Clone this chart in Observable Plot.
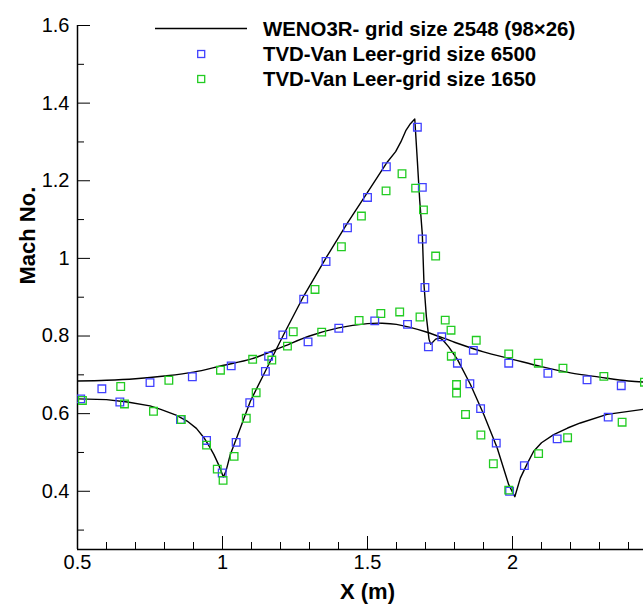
<!DOCTYPE html>
<html><head><meta charset="utf-8">
<script src="https://cdn.jsdelivr.net/npm/d3@7"></script>
<script src="https://cdn.jsdelivr.net/npm/@observablehq/plot@0.6"></script>
<style>
html,body{margin:0;padding:0;background:#fff;overflow:hidden;}
#wrap{position:relative;width:643px;height:605px;overflow:hidden;font-family:Arial,"Liberation Sans",sans-serif;}
#legend{position:absolute;left:0;top:0;}
</style></head><body><div id="wrap"></div>
<script>
// WENO3R - grid size 2548 (smooth curve)
const wenoUpper = [[0.5,0.684],[0.6,0.686],[0.7,0.690],[0.8,0.697],[0.9,0.707],[1.0,0.724],[1.1,0.741],[1.2,0.770],[1.3,0.800],[1.4,0.821],[1.5,0.832],[1.55,0.833],[1.6,0.830],[1.7,0.811],[1.8,0.784],[1.9,0.759],[2.0,0.740],[2.1,0.721],[2.2,0.705],[2.3,0.694],[2.4,0.684],[2.5,0.680]];
// WENO3R - grid size 2548 (curve with shock)
const wenoLower = [[0.5,0.638],[0.6,0.636],[0.672,0.630],[0.75,0.620],[0.787,0.611],[0.84,0.596],[0.878,0.581],[0.91,0.562],[0.936,0.538],[0.955,0.515],[0.970,0.495],[0.988,0.466],[1.003,0.437],[1.012,0.452],[1.027,0.495],[1.05,0.540],[1.07,0.580],[1.096,0.632],[1.142,0.701],[1.211,0.804],[1.28,0.903],[1.36,1.005],[1.43,1.090],[1.50,1.170],[1.565,1.245],[1.597,1.275],[1.615,1.300],[1.632,1.329],[1.648,1.347],[1.663,1.359],[1.672,1.250],[1.680,1.150],[1.689,1.062],[1.695,0.930],[1.703,0.850],[1.712,0.792],[1.718,0.779],[1.735,0.792],[1.750,0.795],[1.762,0.788],[1.780,0.772],[1.810,0.740],[1.855,0.675],[1.901,0.598],[1.947,0.512],[1.987,0.417],[2.008,0.386],[2.027,0.434],[2.05,0.470],[2.073,0.503],[2.10,0.525],[2.142,0.546],[2.19,0.563],[2.234,0.576],[2.326,0.598],[2.45,0.611],[2.5,0.615]];
// TVD-Van Leer - grid size 6500
const tvd6500 = [[0.511,0.638],[0.584,0.664],[0.646,0.630],[0.750,0.680],[0.855,0.585],[0.896,0.695],[0.945,0.531],[0.999,0.447],[1.030,0.723],[1.047,0.526],[1.094,0.628],[1.148,0.709],[1.159,0.748],[1.208,0.803],[1.280,0.895],[1.295,0.785],[1.357,0.992],[1.401,0.820],[1.431,1.079],[1.500,1.157],[1.525,0.839],[1.565,1.236],[1.638,0.830],[1.672,1.338],[1.689,1.183],[1.689,1.050],[1.698,0.925],[1.710,0.772],[1.756,0.798],[1.810,0.730],[1.853,0.677],[1.865,0.763],[1.890,0.613],[1.944,0.524],[1.987,0.730],[1.990,0.400],[2.041,0.466],[2.122,0.704],[2.154,0.535],[2.257,0.687],[2.330,0.591],[2.375,0.672]];
// TVD-Van Leer - grid size 1650
const tvd1650 = [[0.517,0.634],[0.649,0.670],[0.662,0.625],[0.762,0.606],[0.815,0.686],[0.858,0.585],[0.945,0.519],[0.982,0.457],[0.993,0.712],[1.002,0.428],[1.040,0.490],[1.082,0.588],[1.104,0.740],[1.116,0.654],[1.170,0.738],[1.224,0.774],[1.244,0.811],[1.319,0.920],[1.342,0.810],[1.410,1.030],[1.471,0.840],[1.479,1.109],[1.546,0.858],[1.564,1.174],[1.611,0.862],[1.619,1.218],[1.666,1.181],[1.681,0.849],[1.693,1.125],[1.735,1.006],[1.768,0.841],[1.788,0.815],[1.789,0.748],[1.807,0.675],[1.807,0.653],[1.838,0.598],[1.875,0.789],[1.891,0.545],[1.934,0.471],[1.987,0.754],[1.987,0.403],[2.089,0.730],[2.090,0.497],[2.174,0.717],[2.190,0.538],[2.315,0.696],[2.378,0.578],[2.455,0.681]];

const xMajor = [0.5, 1, 1.5, 2];
const xMinor = [0.6,0.7,0.8,0.9,1.1,1.2,1.3,1.4,1.6,1.7,1.8,1.9,2.1,2.2,2.3,2.4];
const yMajor = [0.4, 0.6, 0.8, 1, 1.2, 1.4, 1.6];
const yMinor = [0.3, 0.5, 0.7, 0.9, 1.1, 1.3, 1.5];
const legendLabels = ["WENO3R- grid size 2548 (98\u00d726)", "TVD-Van Leer-grid size 6500", "TVD-Van Leer-grid size 1650"];
const colorLine = "#000000", colorBlue = "#4040ff", colorGreen = "#22cc22";

const W = 657, H = 605, mL = 77, mR = 0, mT = 25, mB = 56;
const xDom = [0.5, 2.5], yDom = [0.25, 1.6];
const pxPerX = (W - mL - mR) / (xDom[1] - xDom[0]);
const pxPerY = (H - mT - mB) / (yDom[1] - yDom[0]);
const majLen = 13, minLen = 7;

const font = 'Arial, "Liberation Sans", sans-serif';

const chart = Plot.plot({
  width: W, height: H,
  marginLeft: mL, marginRight: mR, marginTop: mT, marginBottom: mB,
  style: {fontFamily: font, fontSize: "20px", background: "white", maxWidth: "none", color: "black"},
  x: {domain: xDom, ticks: xMajor, tickSize: 0, tickPadding: 5, tickFormat: d => String(d), label: null},
  y: {domain: yDom, ticks: yMajor, tickSize: 0, tickPadding: 8, tickFormat: d => String(d), label: null},
  marks: [
    // axis lines
    Plot.ruleX([xDom[0]], {stroke: "black", strokeWidth: 1.5}),
    Plot.ruleY([yDom[0]], {stroke: "black", strokeWidth: 1.5}),
    // inward ticks
    Plot.ruleX(xMajor, {x: d => d, y1: yDom[0], y2: yDom[0] + majLen / pxPerY, stroke: "black", strokeWidth: 1}),
    Plot.ruleX(xMinor, {x: d => d, y1: yDom[0], y2: yDom[0] + minLen / pxPerY, stroke: "black", strokeWidth: 1}),
    Plot.ruleY(yMajor, {y: d => d, x1: xDom[0], x2: xDom[0] + majLen / pxPerX, stroke: "black", strokeWidth: 1}),
    Plot.ruleY(yMinor, {y: d => d, x1: xDom[0], x2: xDom[0] + minLen / pxPerX, stroke: "black", strokeWidth: 1}),
    // data
    Plot.line(wenoUpper, {x: d => d[0], y: d => d[1], stroke: colorLine, strokeWidth: 1.4, curve: "catmull-rom", clip: true}),
    Plot.line(wenoLower, {x: d => d[0], y: d => d[1], stroke: colorLine, strokeWidth: 1.4, curve: "linear", clip: true}),
    Plot.dot(tvd6500, {x: d => d[0], y: d => d[1], symbol: "square", r: 4.3, stroke: colorBlue, strokeWidth: 1.3, fill: "none", clip: true}),
    Plot.dot(tvd1650, {x: d => d[0], y: d => d[1], symbol: "square", r: 4.3, stroke: colorGreen, strokeWidth: 1.3, fill: "none", clip: true}),
    // axis titles
    Plot.text(["X (m)"], {frameAnchor: "bottom", dy: 49, fontSize: 22, fontWeight: "bold", fill: "black"}),
    Plot.text(["Mach No."], {frameAnchor: "left", rotate: -90, dx: -50, dy: -3, fontSize: 22, fontWeight: "bold", fill: "black"})
  ]
});
chart.style.display = "block";
chart.style.height = H + "px";
const wrap = document.getElementById("wrap");
wrap.appendChild(chart);

// legend overlay
const leg = d3.select(wrap).append("svg").attr("id", "legend").attr("width", 643).attr("height", 100)
  .style("font-family", font);
const rowY = [35.7, 60.7, 85.7];
leg.append("line").attr("x1", 155).attr("x2", 247).attr("y1", rowY[0] - 7.2).attr("y2", rowY[0] - 7.2)
  .attr("stroke", colorLine).attr("stroke-width", 1.5);
[[colorBlue, rowY[1]], [colorGreen, rowY[2]]].forEach(([c, y]) => {
  leg.append("rect").attr("x", 197.7).attr("y", y - 10.2).attr("width", 7).attr("height", 7)
    .attr("fill", "none").attr("stroke", c).attr("stroke-width", 1.3);
});
legendLabels.forEach((t, i) => {
  leg.append("text").attr("x", 263).attr("y", rowY[i]).attr("font-size", 20.4).attr("font-weight", "bold")
    .attr("fill", "black").text(t);
});
</script>
</body></html>
